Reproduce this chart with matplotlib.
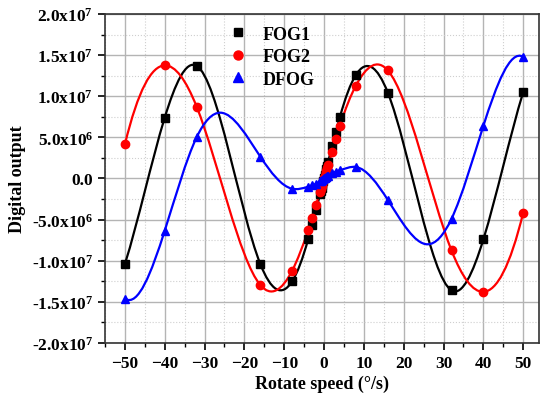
import numpy as np
import matplotlib
matplotlib.use('Agg')
import matplotlib.pyplot as plt
from matplotlib.path import Path
from matplotlib.patches import PathPatch
from matplotlib.lines import Line2D
from matplotlib.ticker import MultipleLocator, FixedLocator, FixedFormatter

plt.rcParams['font.family'] = ['Liberation Serif', 'DejaVu Serif']
plt.rcParams['font.weight'] = 'bold'
plt.rcParams['mathtext.default'] = 'regular'

# data
speed = [-50, -40, -32, -16, -8, -4, -3, -2, -1, -0.8, -0.6, -0.4, -0.2, 0,
         0.2, 0.4, 0.6, 0.8, 1, 2, 3, 4, 8, 16, 32, 40, 50]

fog1 = [-1.04e7, 7.4e6, 1.37e7, -1.04e7, -1.25e7, -7.4e6, -5.6e6, -3.8e6,
        -1.9e6, -1.5e6, -1.1e6, -0.75e6, -0.35e6, 0.0, 0.4e6, 0.8e6, 1.15e6,
        1.55e6, 1.95e6, 3.9e6, 5.7e6, 7.5e6, 1.26e7, 1.045e7, -1.36e7,
        -7.4e6, 1.05e7]

fog2 = [4.15e6, 1.375e7, 8.75e6, -1.295e7, -1.12e7, -6.3e6, -4.8e6, -3.2e6,
        -1.6e6, -1.3e6, -0.95e6, -0.65e6, -0.3e6, 0.0, 0.3e6, 0.65e6, 0.95e6,
        1.3e6, 1.6e6, 3.2e6, 4.8e6, 6.4e6, 1.13e7, 1.315e7, -8.75e6,
        -1.378e7, -4.15e6]

dfog = [-1.46e7, -6.35e6, 5.0e6, 2.65e6, -1.25e6, -1.0e6, -0.85e6, -0.65e6,
        -0.35e6, -0.28e6, -0.21e6, -0.14e6, -0.07e6, 0.0, 0.07e6, 0.14e6,
        0.21e6, 0.28e6, 0.35e6, 0.65e6, 0.85e6, 1.0e6, 1.4e6, -2.6e6, -4.9e6,
        6.4e6, 1.48e7]

# turning points of the DFOG fit line (no marker there)
dfog_turn_x = [-26, 26]
dfog_turn_y = [8.0e6, -8.0e6]

xticks = [-50, -40, -30, -20, -10, 0, 10, 20, 30, 40, 50]
yticks = [2.0e7, 1.5e7, 1.0e7, 5.0e6, 0.0, -5.0e6, -1.0e7, -1.5e7, -2.0e7]
ytick_labels = ['2.0x10$^{7}$', '1.5x10$^{7}$', '1.0x10$^{7}$', '5.0x10$^{6}$', '0.0',
                '-5.0x10$^{6}$', '-1.0x10$^{7}$', '-1.5x10$^{7}$', '-2.0x10$^{7}$']


def spline_path(x, y):
    # cubic spline (not-a-knot) drawn as bezier segments, like Origin's spline line
    order = np.argsort(x)
    x = np.asarray(x, float)[order]
    y = np.asarray(y, float)[order]
    n = len(x)
    h = np.diff(x)
    A = np.zeros((n, n))
    b = np.zeros(n)
    A[0, 0], A[0, 1], A[0, 2] = -h[1], h[0] + h[1], -h[0]
    A[-1, -3], A[-1, -2], A[-1, -1] = -h[-1], h[-2] + h[-1], -h[-2]
    for i in range(1, n - 1):
        A[i, i - 1] = h[i - 1]
        A[i, i] = 2 * (h[i - 1] + h[i])
        A[i, i + 1] = h[i]
        b[i] = 6 * ((y[i + 1] - y[i]) / h[i] - (y[i] - y[i - 1]) / h[i - 1])
    M = np.linalg.solve(A, b)
    m = np.zeros(n)
    m[:-1] = (y[1:] - y[:-1]) / h - h * (2 * M[:-1] + M[1:]) / 6
    m[-1] = (y[-1] - y[-2]) / h[-1] + h[-1] * (M[-2] + 2 * M[-1]) / 6
    verts = [(x[0], y[0])]
    codes = [Path.MOVETO]
    for i in range(n - 1):
        verts += [(x[i] + h[i] / 3, y[i] + m[i] * h[i] / 3),
                  (x[i + 1] - h[i] / 3, y[i + 1] - m[i + 1] * h[i] / 3),
                  (x[i + 1], y[i + 1])]
        codes += [Path.CURVE4] * 3
    return Path(verts, codes)


fig = plt.figure(figsize=(5.4, 4.02), dpi=100)
ax = fig.add_axes([0.1944, 0.1443, 0.804, 0.8184])

series = [(speed, fog1, speed, fog1, 'black', 's', 5.2, 'FOG1'),
          (speed, fog2, speed, fog2, 'red', 'o', 6, 'FOG2'),
          (speed, dfog, speed + dfog_turn_x, dfog + dfog_turn_y, 'blue', '^', 6, 'DFOG')]

handles = []
for px, py, lx, ly, col, mk, ms, lab in series:
    ax.add_patch(PathPatch(spline_path(lx, ly), fill=False, edgecolor=col,
                           lw=1.6, zorder=3))
    ax.plot(px, py, ls='none', marker=mk, color=col, ms=ms, zorder=4)
    handles.append(Line2D([], [], ls='none', marker=mk, color=col, ms=ms + 0.5, label=lab))

ax.set_xlim(-55, 54)
ax.set_ylim(-2e7, 2e7)
ax.xaxis.set_major_locator(FixedLocator(xticks))
ax.xaxis.set_minor_locator(MultipleLocator(5))
ax.yaxis.set_major_locator(FixedLocator(yticks))
ax.yaxis.set_major_formatter(FixedFormatter(ytick_labels))
ax.yaxis.set_minor_locator(MultipleLocator(2.5e6))

ax.grid(which='major', color='#b4b4b4', lw=1.0, ls='-', zorder=0)
ax.grid(which='minor', color='#cfcfcf', lw=0.8, ls=':', zorder=0)
ax.set_axisbelow(True)

ax.tick_params(which='major', direction='out', length=5, width=1.2, labelsize=12.5, colors='black')
ax.tick_params(which='minor', direction='out', length=3, width=1.0)
for s in ax.spines.values():
    s.set_linewidth(1.2)
    s.set_color('#333333')

for lbl in ax.get_xticklabels() + ax.get_yticklabels():
    lbl.set_fontweight('bold')

ax.set_xlabel('Rotate speed (°/s)', fontsize=13, fontweight='bold', labelpad=3)
ax.set_ylabel('Digital output', fontsize=13, fontweight='bold', labelpad=4)

ax.legend(handles=handles, loc='upper left', bbox_to_anchor=(0.258, 1.0), frameon=False,
          handlelength=1.0, handletextpad=0.9, labelspacing=0.3, borderaxespad=0.25,
          prop={'weight': 'bold', 'size': 13})

fig.savefig('out.png', dpi=100)
